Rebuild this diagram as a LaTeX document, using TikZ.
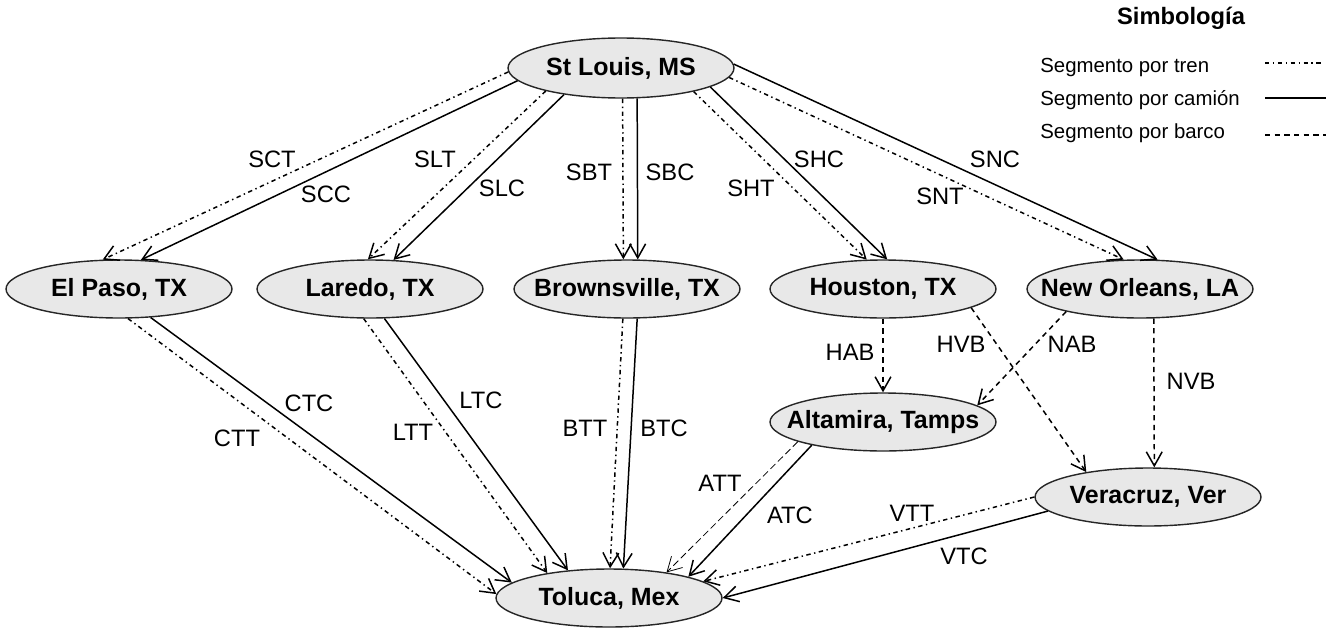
\documentclass[tikz,border=0pt]{standalone}
\usepackage{fontspec}
\setmainfont{Liberation Sans}
\usetikzlibrary{shapes.geometric,arrows.meta}
\begin{document}
\begin{tikzpicture}[x=0.02cm,y=-0.02cm,
  city/.style={ellipse, draw=black!85, line width=0.8pt, fill=black!9,
    minimum width=4.52cm, minimum height=1.16cm, inner xsep=-12pt, inner ysep=0pt,
    font=\bfseries\fontsize{14.2}{16}\selectfont},
  lbl/.style={inner sep=0pt, font=\fontsize{13.5}{15}\selectfont},
  leg/.style={inner sep=0pt, anchor=west, font=\fontsize{11.6}{13}\selectfont},
  edge/.style={line width=0.85pt, -{Straight Barb[length=8pt,width=9pt]}},
  tren/.style={edge, dash pattern=on 2.5pt off 2pt on 0.8pt off 2pt},
  camion/.style={edge},
  barco/.style={edge, dash pattern=on 3pt off 2.5pt},
  thindash/.style={line width=0.45pt, dash pattern=on 4pt off 2pt,
    -{Straight Barb[length=8pt,width=9pt,line width=0.45pt]}}
]
\useasboundingbox (0,0) rectangle (1334,632);

% nodes
\node[city, minimum height=1.2cm] (stl) at (621,68) {St Louis, MS};
\node[city] (elp) at (119,289) {El Paso, TX};
\node[city] (lar) at (370,289) {Laredo, TX};
\node[city] (bro) at (627,289) {Brownsville, TX};
\node[city] (hou) at (883,289) {Houston, TX};
\node[city] (neo) at (1140,289) {New Orleans, LA};
\node[city] (alt) at (883,422) {Altamira, Tamps};
\node[city] (ver) at (1148,497) {Veracruz, Ver};
\node[city] (tol) at (609,598) {Toluca, Mex};

% St Louis edges
\draw[tren]   (stl.182)   -- (elp.119.1);
\draw[camion] (stl.187)   -- (elp.53.6);
\draw[tren]   (stl.197)   -- (lar.94);
\draw[camion] (stl.205)   -- (lar.51);
\draw[tren]   (stl.273.8) -- (bro.97.9);
\draw[camion] (stl.298.3) -- (bro.70.9);
\draw[tren]   (stl.342.2) -- (hou.119.1);
\draw[camion] (stl.348.3) -- (hou.82.1);
\draw[tren]   (stl.355)   -- (neo.119.1);
\draw[camion] (stl.2)     -- (neo.59.4);

% to Toluca
\draw[tren]   (elp.287.3) -- (tol.178);
\draw[camion] (elp.318)   -- (tol.171.6);
\draw[tren]   (lar.258.3) -- (tol.158.9);
\draw[camion] (lar.296)   -- (tol.146.4);
\draw[tren]   (bro.262.1) -- (tol.88);
\draw[camion] (bro.289.1) -- (tol.64.8);
\draw[thindash] (alt.193.3) -- (tol.24.9);
\draw[camion] (alt.198.8) -- (tol.15.5);
\draw[tren]   (ver.180)   -- (tol.10);
\draw[camion] (ver.188)   -- (tol.0);

% ship edges
\draw[barco] (hou.270)   -- (alt.90);
\draw[barco] (hou.348)   -- (ver.158.2);
\draw[barco] (neo.197.2) -- (alt.10.3);
\draw[barco] (neo.295.9) -- (ver.78.3);

% edge labels
\node[lbl] (lSCT) at (272,159) {SCT};
\node[lbl] (lSCC) at (326,194) {SCC};
\node[lbl] (lSLT) at (435,159) {SLT};
\node[lbl] (lSLC) at (502,188) {SLC};
\node[lbl] (lSBT) at (589,172) {SBT};
\node[lbl] (lSBC) at (670,172) {SBC};
\node[lbl] (lSHT) at (751,188) {SHT};
\node[lbl] (lSHC) at (819,159) {SHC};
\node[lbl] (lSNT) at (940,196) {SNT};
\node[lbl] (lSNC) at (995,159) {SNC};
\node[lbl] (lCTC) at (309,403) {CTC};
\node[lbl] (lCTT) at (237,438) {CTT};
\node[lbl] (lLTC) at (481,400) {LTC};
\node[lbl] (lLTT) at (413,432) {LTT};
\node[lbl] (lBTT) at (585,428) {BTT};
\node[lbl] (lBTC) at (664,428) {BTC};
\node[lbl] (lHAB) at (850,352) {HAB};
\node[lbl] (lHVB) at (961,344) {HVB};
\node[lbl] (lNAB) at (1072,344) {NAB};
\node[lbl] (lNVB) at (1191,381) {NVB};
\node[lbl] (lATT) at (720,483) {ATT};
\node[lbl] (lATC) at (790,515) {ATC};
\node[lbl] (lVTT) at (912,513) {VTT};
\node[lbl] (lVTC) at (964,556) {VTC};

% legend
\node[inner sep=0pt, font=\bfseries\fontsize{13.5}{15}\selectfont] (simb) at (1181,18) {Simbología};
\node[leg] (ltren) at (1040,67) {Segmento por tren};
\node[leg] (lcam) at (1040,100) {Segmento por camión};
\node[leg] (lbar) at (1040,133) {Segmento por barco};
\draw[line width=0.8pt, dash pattern=on 2.5pt off 2pt on 0.8pt off 2pt] (1265,63) -- (1324,63);
\draw[line width=0.8pt] (1265,98) -- (1326,98);
\draw[line width=0.8pt, dash pattern=on 3pt off 2.5pt] (1265,135) -- (1326,135);
\end{tikzpicture}
\end{document}
